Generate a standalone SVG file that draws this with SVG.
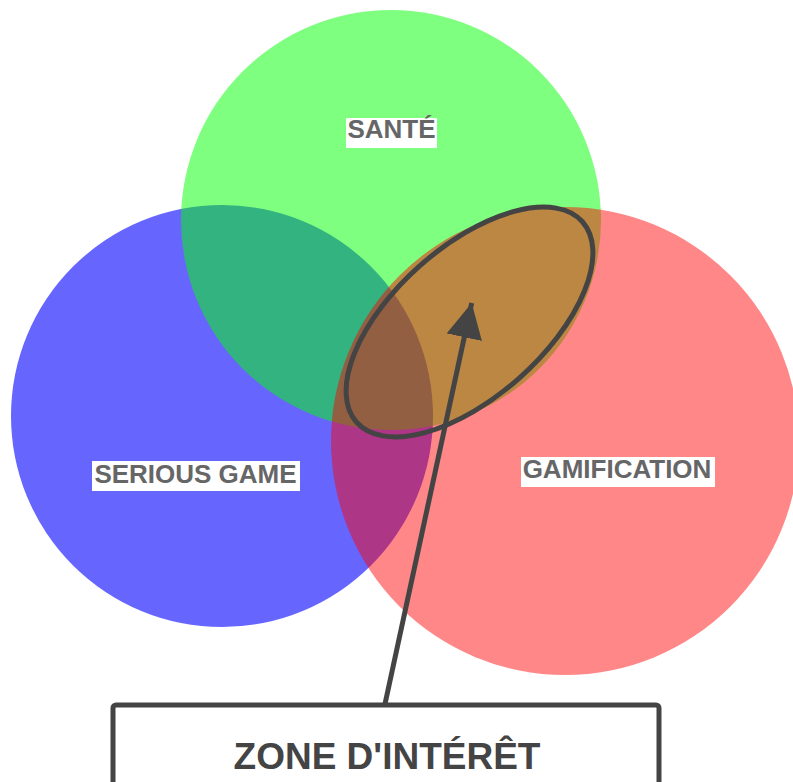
<svg xmlns="http://www.w3.org/2000/svg" width="793" height="782" viewBox="0 0 793 782">
  <style>
    .lbl { font-family: "Liberation Sans", Arial, sans-serif; font-weight: bold; font-size: 26px; fill: #666666; text-anchor: middle; }
    .lblbg { fill: #ffffff; }
    .title { font-family: "Liberation Sans", Arial, sans-serif; font-weight: bold; font-size: 37px; fill: #444444; text-anchor: middle; }
    .dark { stroke: #444444; stroke-width: 5; fill: none; }
  </style>
  <defs>
    <marker id="arrow" markerUnits="userSpaceOnUse" markerWidth="40" markerHeight="40" refX="35" refY="18" orient="auto">
      <path d="M0,0 L35,18 L0,36 Z" fill="#444444"/>
    </marker>
  </defs>
  <rect width="793" height="782" fill="#ffffff"/>
  <g id="serious-game">
    <circle cx="222" cy="416" r="211" fill="#0000ff" fill-opacity="0.6"/>
  </g>
  <g id="sante">
    <circle cx="391" cy="220" r="210" fill="#00ff00" fill-opacity="0.5"/>
  </g>
  <g id="gamification">
    <circle cx="565" cy="441" r="234" fill="#ff0000" fill-opacity="0.47"/>
  </g>
  <g id="labels">
    <rect class="lblbg" x="346" y="118" width="91" height="30"/>
    <text class="lbl" x="391.5" y="137.5">SANTÉ</text>
    <rect class="lblbg" x="92" y="461" width="208" height="30"/>
    <text class="lbl" x="195.5" y="483">SERIOUS GAME</text>
    <rect class="lblbg" x="521" y="457" width="194" height="30"/>
    <text class="lbl" x="617" y="478">GAMIFICATION</text>
  </g>
  <g id="zone-ellipse">
    <ellipse class="dark" cx="469.5" cy="322" rx="151" ry="75" transform="rotate(-41.6 469.5 322)"/>
  </g>
  <g id="connectors">
    <line class="dark" x1="385" y1="704" x2="471.7" y2="303" marker-end="url(#arrow)"/>
  </g>
  <g id="zone-interet">
    <rect x="113" y="705" width="546" height="110" rx="3" fill="#ffffff" stroke="#444444" stroke-width="5"/>
    <text class="title" x="387" y="769">ZONE D'INTÉRÊT</text>
  </g>
</svg>
